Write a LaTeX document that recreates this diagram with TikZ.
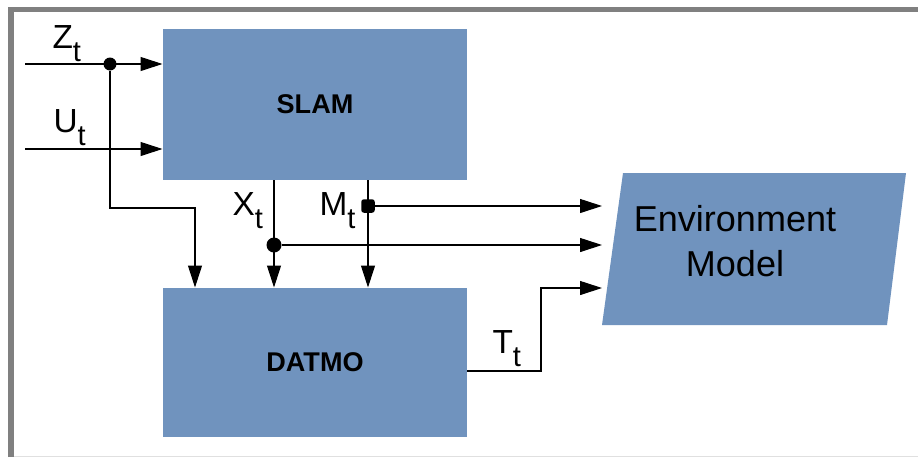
\documentclass[tikz,border=0pt]{standalone}
\usepackage{fontspec}
\setmainfont{Liberation Sans}
\usetikzlibrary{arrows.meta}

\definecolor{boxblue}{RGB}{112,147,190}
\definecolor{framegray}{RGB}{128,128,128}
\newcommand{\sig}[2]{#1\raisebox{-7.4pt}{\fontsize{16.5}{16.5}\selectfont #2}}

\tikzset{
  block/.style={fill=boxblue, minimum width=6.08cm, inner sep=0pt,
    font=\fontsize{15.4}{15.4}\selectfont\bfseries},
  sigl/.style={anchor=base west, inner sep=0pt, font=\fontsize{19}{19}\selectfont},
  dot/.style={circle, fill=black, inner sep=0pt, minimum size=#1},
}

\begin{document}
\begin{tikzpicture}[x=0.02cm, y=-0.02cm, line width=0.6pt,
    >={Triangle[length=4.4mm,width=2.8mm]}]
  \useasboundingbox (0,0) rectangle (918,457);
  % frame
  \draw[framegray, line width=1.1mm] (11,457) -- (11,9.5) -- (918,9.5);
  \draw[black!12, line width=0.4pt] (14,456.5) -- (918,456.5);

  % blocks
  \node[block, minimum height=3.02cm] (slam) at (315,104.5) {SLAM};
  \node[block, minimum height=2.98cm] (datmo) at (315,362.5) {\raisebox{-0.25cm}{DATMO}};
  \fill[boxblue] (602,325) -- (887,325) -- (906,173) -- (623,173) -- cycle;
  \node[align=center, font=\fontsize{20.5}{25.6}\selectfont] (env) at (735,241)
    {Environment\\Model};

  % signal labels
  \node[sigl] (zl) at (52,48) {\sig{Z}{t}};
  \node[sigl] (ul) at (53,132) {\sig{U}{t}};
  \node[sigl] (xl) at (232,215) {\sig{X}{t}};
  \node[sigl] (ml) at (319,215) {\sig{M}{t}};
  \node[sigl] (tl) at (492,353) {\sig{T}{t}};

  % inputs
  \coordinate (zin) at (25,64);
  \coordinate (uin) at (25,149);
  \node[dot=0.26cm] (zdot) at (110,64) {};
  \draw[->] (zin) -- (zin -| slam.west);
  \draw[->] (uin) -- (uin -| slam.west);
  \coordinate (zbend) at (195,208);
  \draw[->] (zdot) |- (zbend) -- (zbend |- datmo.north);

  % slam outputs
  \coordinate (envin) at (602,0);
  \coordinate (xs) at (274,180);
  \coordinate (ms) at (368,180);
  \node[dot=0.3cm] (xdot) at (274,245) {};
  \node[fill=black, rounded corners=1.5pt, inner sep=0pt, minimum size=0.27cm] (mdot) at (368,206) {};
  \draw[->] (xs) -- (xs |- datmo.north);
  \draw[->] (ms) -- (ms |- datmo.north);
  \draw[->] (xdot) -- (xdot -| envin);
  \draw[->] (mdot) -- (mdot -| envin);

  % datmo output
  \coordinate (tout) at (467,371);
  \coordinate (tbend) at (541,288);
  \draw[->] (tout) -| (tbend) -- (tbend -| envin);
\end{tikzpicture}
\end{document}
